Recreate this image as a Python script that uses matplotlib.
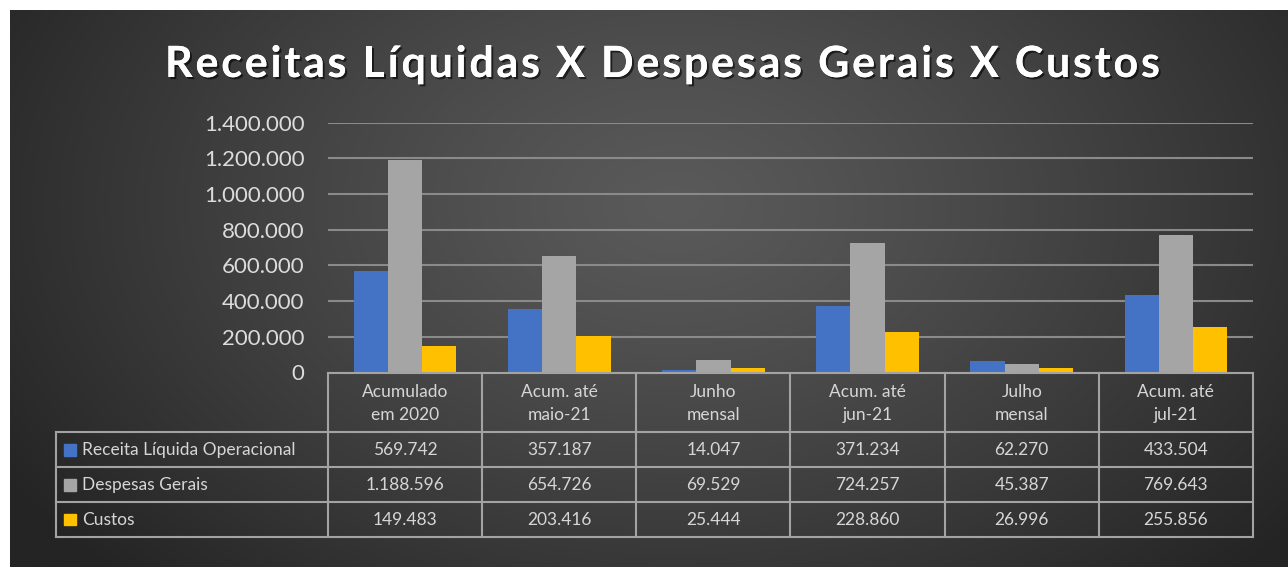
import numpy as np
import matplotlib
matplotlib.use("Agg")
import matplotlib.pyplot as plt
import matplotlib.patheffects as pe
from matplotlib.patches import Rectangle

# dados
categorias = ["Acumulado\nem 2020", "Acum. até\nmaio-21", "Junho\nmensal",
              "Acum. até\njun-21", "Julho\nmensal", "Acum. até\njul-21"]
series = ["Receita Líquida Operacional", "Despesas Gerais", "Custos"]
receita = [569742, 357187, 14047, 371234, 62270, 433504]
despesas = [1188596, 654726, 69529, 724257, 45387, 769643]
custos = [149483, 203416, 25444, 228860, 26996, 255856]
yticks = [0, 200000, 400000, 600000, 800000, 1000000, 1200000, 1400000]
titulo = "Receitas Líquidas X Despesas Gerais X Custos"

cores = ["#4472c4", "#a5a5a5", "#ffc000"]
plt.rcParams['font.family'] = ['Lato', 'DejaVu Sans']

def fmt(v):
    return f"{v:,}".replace(",", ".")

W, H = 1288, 567
fig = plt.figure(figsize=(W/100, H/100), dpi=100)
fig.patch.set_facecolor('white')

# fundo com gradiente radial
bg = fig.add_axes([10/W, 0, 1-10/W, 1-10/H])
yy, xx = np.mgrid[0:1:300j, 0:1:700j]
r = np.sqrt(((xx-0.52)/0.62)**2 + ((yy-0.35)/0.95)**2)
r = np.clip(r, 0, 1)
c0, c1 = 0x5a/255, 0x24/255
img = c0 + (c1-c0)*r**1.2
bg.imshow(np.dstack([img]*3), aspect='auto', extent=[0, 1, 1, 0])
bg.axis('off')

# grafico de barras
ax = fig.add_axes([328/W, 1-372.5/H, (1253-328)/W, (372.5-122.7)/H])
ax.set_facecolor('none')
x = np.arange(len(categorias))
w = 0.222
for i, (vals, c) in enumerate(zip([receita, despesas, custos], cores)):
    ax.bar(x + (i-1)*w, vals, w, color=c, zorder=3)
ax.set_xlim(-0.5, 5.5)
ax.set_ylim(0, 1400000)
ax.set_yticks(yticks)
ax.set_yticklabels([fmt(v) for v in yticks])
ax.yaxis.grid(True, color='#8a8a8a', lw=1.5)
ax.set_axisbelow(True)
ax.tick_params(axis='y', length=0, pad=17, labelsize=16, labelcolor='#dcdcdc')
ax.set_xticks([])
for s in ax.spines.values():
    s.set_visible(False)

# tabela de dados
px = 154.17
leg_w = (328-55.7)/px
tab = fig.add_axes([55.7/W, 1-537/H, (1253-55.7)/W, (537-373)/H])
tab.set_xlim(-0.5-leg_w, 5.5)
tab.set_ylim(4.7, 0)
tab.axis('off')
lc = '#a3a3a3'
kw = dict(color=lc, lw=1.5, clip_on=False)
tab.plot([-0.5, 5.5], [0, 0], **kw)
for b in [1.7, 2.7, 3.7, 4.7]:
    tab.plot([-0.5-leg_w, 5.5], [b, b], **kw)
for xv in np.arange(-0.5, 6):
    tab.plot([xv, xv], [0, 4.7], **kw)
tab.plot([-0.5-leg_w]*2, [1.7, 4.7], **kw)

tc = '#d6d6d6'
for i, cat in enumerate(categorias):
    tab.text(i, 0.87, cat, ha='center', va='center', linespacing=1.5,
             fontsize=12.5, color=tc)
for k, (nome, vals, c) in enumerate(zip(series, [receita, despesas, custos], cores)):
    yc = 1.7 + k + 0.5
    tab.add_patch(Rectangle((-0.5-leg_w + 8.3/px, yc-0.17), 12/px, 0.34,
                            color=c, clip_on=False))
    tab.text(-0.5-leg_w + 26/px, yc, nome, ha='left', va='center',
             fontsize=12.5, color=tc)
    for i, v in enumerate(vals):
        tab.text(i, yc, fmt(v), ha='center', va='center', fontsize=12.5, color=tc)

# titulo com espacamento entre letras
fs = 31
rend = fig.canvas.get_renderer()

def largura(s):
    t = fig.text(0, 0, s + "|", fontsize=fs, fontweight='bold')
    wd = t.get_window_extent(rend).width
    t.remove()
    return wd

wb = largura("")
pos = [largura(titulo[:i]) - wb for i in range(len(titulo)+1)]
extra = (995 - pos[-1]) / (len(titulo)-1)
sombra = [pe.withSimplePatchShadow(offset=(1.5, -1.5), shadow_rgbFace='black', alpha=0.6),
          pe.Normal()]
for i, ch in enumerate(titulo):
    if ch == " ":
        continue
    fig.text((165 + pos[i] + i*extra)/W, 1-77/H, ch, fontsize=fs, fontweight='bold',
             color='white', ha='left', va='baseline', path_effects=sombra)

fig.savefig("out.png", dpi=100)
